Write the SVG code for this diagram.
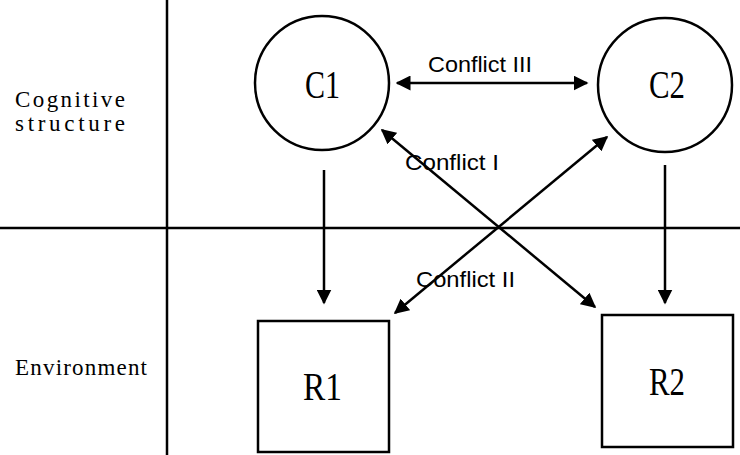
<svg xmlns="http://www.w3.org/2000/svg" width="740" height="455" viewBox="0 0 740 455">
<style>
.ln{stroke:#000;stroke-width:2.5;fill:none}
.shape{stroke:#000;stroke-width:2.5;fill:#fff}
.node{font-family:"Liberation Serif","Times New Roman",serif;font-size:40px;fill:#000}
.side{font-family:"Liberation Serif","Times New Roman",serif;font-size:23px;fill:#000}
.lbl{font-family:"Liberation Sans",Arial,sans-serif;font-size:22px;fill:#000}
</style>
<defs>
<marker id="ah" viewBox="0 0 10 10" refX="9" refY="5" markerWidth="6" markerHeight="6" orient="auto-start-reverse" markerUnits="strokeWidth">
<path d="M0,0 L10,5 L0,10 Z" fill="#000"/>
</marker>
</defs>
<g id="axes">
<line class="ln" x1="167" y1="0" x2="167" y2="455"/>
<line class="ln" x1="0" y1="228" x2="740" y2="228"/>
</g>
<g id="labels">
<text class="side" x="15" y="107" textLength="110" lengthAdjust="spacing">Cognitive</text>
<text class="side" x="15" y="131" textLength="110" lengthAdjust="spacing">structure</text>
<text class="side" x="15" y="375" textLength="132" lengthAdjust="spacing">Environment</text>
</g>
<g id="C1">
<circle class="shape" cx="322" cy="83" r="67"/>
<text class="node" x="305" y="98" textLength="35" lengthAdjust="spacingAndGlyphs">C1</text>
</g>
<g id="C2">
<circle class="shape" cx="665" cy="85" r="67"/>
<text class="node" x="649" y="98" textLength="36" lengthAdjust="spacingAndGlyphs">C2</text>
</g>
<g id="R1">
<rect class="shape" x="258" y="321" width="131" height="131"/>
<text class="node" x="303" y="400" textLength="39" lengthAdjust="spacingAndGlyphs">R1</text>
</g>
<g id="R2">
<rect class="shape" x="602" y="315" width="131" height="132"/>
<text class="node" x="649" y="395" textLength="36" lengthAdjust="spacingAndGlyphs">R2</text>
</g>
<g id="connectors">
<line class="ln" x1="397" y1="83" x2="587" y2="83" marker-start="url(#ah)" marker-end="url(#ah)"/>
<line class="ln" x1="382" y1="130" x2="595" y2="307" marker-start="url(#ah)" marker-end="url(#ah)"/>
<line class="ln" x1="607" y1="137" x2="395" y2="313" marker-start="url(#ah)" marker-end="url(#ah)"/>
<line class="ln" x1="324" y1="170" x2="324" y2="303" marker-end="url(#ah)"/>
<line class="ln" x1="665" y1="165" x2="665" y2="303" marker-end="url(#ah)"/>
<text class="lbl" x="428" y="72" textLength="104" lengthAdjust="spacingAndGlyphs">Conflict III</text>
<text class="lbl" x="405" y="170" textLength="94" lengthAdjust="spacingAndGlyphs">Conflict I</text>
<text class="lbl" x="416" y="287" textLength="99" lengthAdjust="spacingAndGlyphs">Conflict II</text>
</g>
</svg>
